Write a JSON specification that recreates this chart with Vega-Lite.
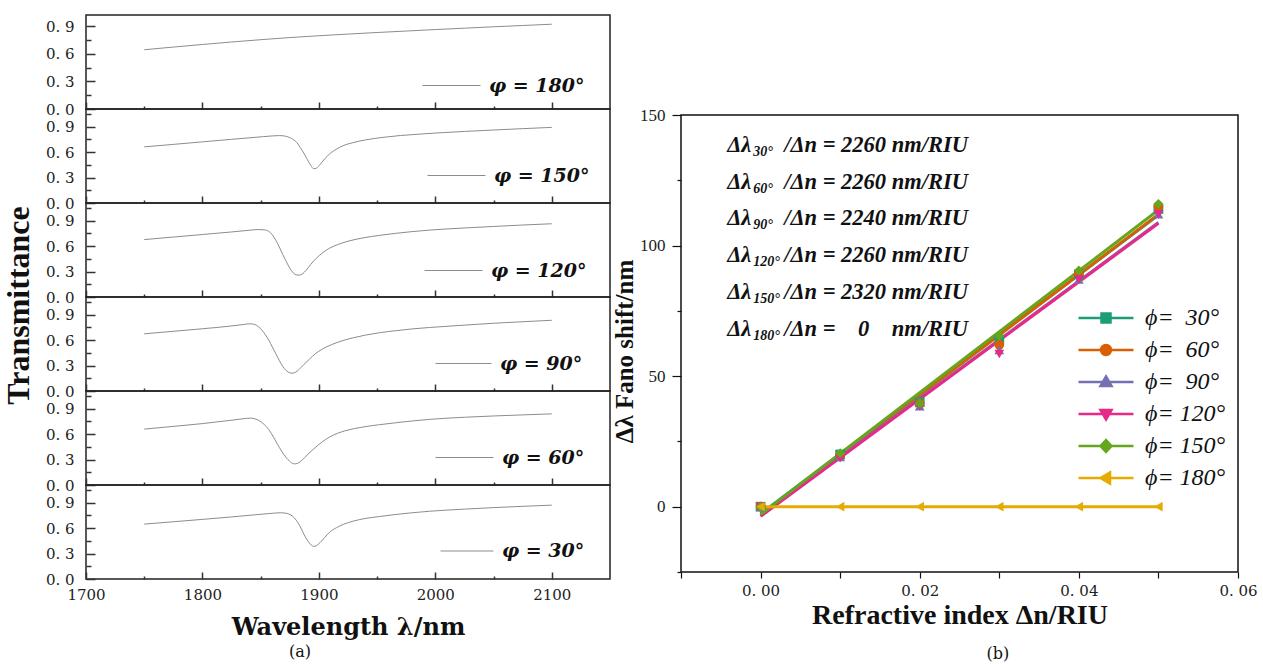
{
  "$schema": "https://vega.github.io/schema/vega-lite/v6.json",
  "background": "white",
  "padding": {"left": 1, "top": 14, "right": 0, "bottom": 0},
  "config": {
    "view": {"stroke": "#222", "strokeWidth": 1.5},
    "axis": {"domain": false, "grid": false},
    "concat": {"spacing": 0}
  },
  "datasets": {
    "curves": [
      {"c":"180","w":1750,"t":0.643},{"c":"180","w":1775,"t":0.672},{"c":"180","w":1800,"t":0.700},{"c":"180","w":1825,"t":0.727},{"c":"180","w":1850,"t":0.752},{"c":"180","w":1875,"t":0.775},{"c":"180","w":1900,"t":0.795},{"c":"180","w":1925,"t":0.813},{"c":"180","w":1950,"t":0.830},{"c":"180","w":1975,"t":0.846},{"c":"180","w":2000,"t":0.862},{"c":"180","w":2025,"t":0.877},{"c":"180","w":2050,"t":0.892},{"c":"180","w":2075,"t":0.906},{"c":"180","w":2100,"t":0.920},
      {"c":"150","w":1750,"t":0.663},{"c":"150","w":1775,"t":0.692},{"c":"150","w":1800,"t":0.722},{"c":"150","w":1825,"t":0.752},{"c":"150","w":1845,"t":0.775},{"c":"150","w":1860,"t":0.792},{"c":"150","w":1866,"t":0.796},{"c":"150","w":1871,"t":0.790},{"c":"150","w":1875,"t":0.772},{"c":"150","w":1878,"t":0.75},{"c":"150","w":1881,"t":0.715},{"c":"150","w":1884,"t":0.655},{"c":"150","w":1887,"t":0.59},{"c":"150","w":1890,"t":0.515},{"c":"150","w":1893,"t":0.445},{"c":"150","w":1895.5,"t":0.405},{"c":"150","w":1898,"t":0.412},{"c":"150","w":1901,"t":0.455},{"c":"150","w":1905,"t":0.52},{"c":"150","w":1909,"t":0.578},{"c":"150","w":1915,"t":0.635},{"c":"150","w":1920,"t":0.672},{"c":"150","w":1930,"t":0.715},{"c":"150","w":1940,"t":0.745},{"c":"150","w":1955,"t":0.775},{"c":"150","w":1970,"t":0.797},{"c":"150","w":1985,"t":0.812},{"c":"150","w":2000,"t":0.826},{"c":"150","w":2025,"t":0.845},{"c":"150","w":2050,"t":0.862},{"c":"150","w":2075,"t":0.878},{"c":"150","w":2100,"t":0.893},
      {"c":"120","w":1750,"t":0.678},{"c":"120","w":1775,"t":0.708},{"c":"120","w":1800,"t":0.738},{"c":"120","w":1825,"t":0.768},{"c":"120","w":1840,"t":0.788},{"c":"120","w":1848,"t":0.797},{"c":"120","w":1853,"t":0.793},{"c":"120","w":1857,"t":0.775},{"c":"120","w":1860,"t":0.735},{"c":"120","w":1863,"t":0.67},{"c":"120","w":1866,"t":0.59},{"c":"120","w":1869,"t":0.50},{"c":"120","w":1872,"t":0.42},{"c":"120","w":1875,"t":0.34},{"c":"120","w":1878,"t":0.285},{"c":"120","w":1881,"t":0.26},{"c":"120","w":1883,"t":0.258},{"c":"120","w":1886,"t":0.275},{"c":"120","w":1889,"t":0.315},{"c":"120","w":1893,"t":0.385},{"c":"120","w":1898,"t":0.46},{"c":"120","w":1903,"t":0.52},{"c":"120","w":1909,"t":0.575},{"c":"120","w":1916,"t":0.618},{"c":"120","w":1924,"t":0.655},{"c":"120","w":1938,"t":0.698},{"c":"120","w":1952,"t":0.728},{"c":"120","w":1966,"t":0.752},{"c":"120","w":1980,"t":0.772},{"c":"120","w":1995,"t":0.79},{"c":"120","w":2025,"t":0.815},{"c":"120","w":2050,"t":0.833},{"c":"120","w":2075,"t":0.85},{"c":"120","w":2100,"t":0.865},
      {"c":"90","w":1750,"t":0.675},{"c":"90","w":1775,"t":0.705},{"c":"90","w":1800,"t":0.735},{"c":"90","w":1823,"t":0.765},{"c":"90","w":1835,"t":0.785},{"c":"90","w":1841,"t":0.794},{"c":"90","w":1845,"t":0.785},{"c":"90","w":1848,"t":0.76},{"c":"90","w":1851,"t":0.72},{"c":"90","w":1854,"t":0.665},{"c":"90","w":1857,"t":0.60},{"c":"90","w":1860,"t":0.52},{"c":"90","w":1863,"t":0.44},{"c":"90","w":1866,"t":0.36},{"c":"90","w":1869,"t":0.29},{"c":"90","w":1872,"t":0.24},{"c":"90","w":1875,"t":0.215},{"c":"90","w":1877,"t":0.21},{"c":"90","w":1880,"t":0.222},{"c":"90","w":1883,"t":0.255},{"c":"90","w":1887,"t":0.312},{"c":"90","w":1892,"t":0.378},{"c":"90","w":1897,"t":0.44},{"c":"90","w":1903,"t":0.495},{"c":"90","w":1911,"t":0.548},{"c":"90","w":1920,"t":0.593},{"c":"90","w":1930,"t":0.63},{"c":"90","w":1940,"t":0.66},{"c":"90","w":1952,"t":0.688},{"c":"90","w":1966,"t":0.712},{"c":"90","w":1980,"t":0.733},{"c":"90","w":1995,"t":0.75},{"c":"90","w":2025,"t":0.778},{"c":"90","w":2050,"t":0.80},{"c":"90","w":2075,"t":0.818},{"c":"90","w":2100,"t":0.835},
      {"c":"60","w":1750,"t":0.66},{"c":"60","w":1775,"t":0.692},{"c":"60","w":1800,"t":0.725},{"c":"60","w":1823,"t":0.762},{"c":"60","w":1835,"t":0.782},{"c":"60","w":1841,"t":0.79},{"c":"60","w":1845,"t":0.782},{"c":"60","w":1849,"t":0.758},{"c":"60","w":1853,"t":0.715},{"c":"60","w":1857,"t":0.655},{"c":"60","w":1861,"t":0.565},{"c":"60","w":1864.5,"t":0.48},{"c":"60","w":1868,"t":0.40},{"c":"60","w":1872,"t":0.322},{"c":"60","w":1875,"t":0.28},{"c":"60","w":1878,"t":0.252},{"c":"60","w":1880,"t":0.25},{"c":"60","w":1883,"t":0.265},{"c":"60","w":1886,"t":0.298},{"c":"60","w":1890,"t":0.355},{"c":"60","w":1895,"t":0.42},{"c":"60","w":1902,"t":0.50},{"c":"60","w":1909,"t":0.565},{"c":"60","w":1916,"t":0.61},{"c":"60","w":1923,"t":0.642},{"c":"60","w":1938,"t":0.685},{"c":"60","w":1952,"t":0.712},{"c":"60","w":1966,"t":0.735},{"c":"60","w":1980,"t":0.756},{"c":"60","w":1995,"t":0.775},{"c":"60","w":2025,"t":0.80},{"c":"60","w":2050,"t":0.815},{"c":"60","w":2075,"t":0.828},{"c":"60","w":2100,"t":0.84},
      {"c":"30","w":1750,"t":0.648},{"c":"30","w":1775,"t":0.676},{"c":"30","w":1800,"t":0.704},{"c":"30","w":1825,"t":0.733},{"c":"30","w":1845,"t":0.758},{"c":"30","w":1860,"t":0.776},{"c":"30","w":1867,"t":0.782},{"c":"30","w":1872,"t":0.776},{"c":"30","w":1876,"t":0.755},{"c":"30","w":1879,"t":0.72},{"c":"30","w":1882,"t":0.665},{"c":"30","w":1885,"t":0.59},{"c":"30","w":1888,"t":0.505},{"c":"30","w":1891,"t":0.44},{"c":"30","w":1893.5,"t":0.40},{"c":"30","w":1895.5,"t":0.385},{"c":"30","w":1898,"t":0.395},{"c":"30","w":1901,"t":0.43},{"c":"30","w":1905,"t":0.49},{"c":"30","w":1909,"t":0.55},{"c":"30","w":1915,"t":0.605},{"c":"30","w":1921,"t":0.645},{"c":"30","w":1930,"t":0.685},{"c":"30","w":1938,"t":0.71},{"c":"30","w":1952,"t":0.738},{"c":"30","w":1966,"t":0.762},{"c":"30","w":1980,"t":0.782},{"c":"30","w":1995,"t":0.80},{"c":"30","w":2025,"t":0.825},{"c":"30","w":2050,"t":0.843},{"c":"30","w":2075,"t":0.858},{"c":"30","w":2100,"t":0.872}
    ],
    "pts": [
      {"phi":"30","dn":0,"s":0},{"phi":"30","dn":0.01,"s":20},{"phi":"30","dn":0.02,"s":40},{"phi":"30","dn":0.03,"s":64},{"phi":"30","dn":0.04,"s":89},{"phi":"30","dn":0.05,"s":114},
      {"phi":"60","dn":0,"s":0},{"phi":"60","dn":0.01,"s":19.5},{"phi":"60","dn":0.02,"s":39.5},{"phi":"60","dn":0.03,"s":62},{"phi":"60","dn":0.04,"s":89.5},{"phi":"60","dn":0.05,"s":115},
      {"phi":"90","dn":0,"s":0},{"phi":"90","dn":0.01,"s":19},{"phi":"90","dn":0.02,"s":38.5},{"phi":"90","dn":0.03,"s":60},{"phi":"90","dn":0.04,"s":87},{"phi":"90","dn":0.05,"s":112},
      {"phi":"120","dn":0,"s":0},{"phi":"120","dn":0.01,"s":18.5},{"phi":"120","dn":0.02,"s":38.5},{"phi":"120","dn":0.03,"s":58.5},{"phi":"120","dn":0.04,"s":87},{"phi":"120","dn":0.05,"s":112},
      {"phi":"150","dn":0,"s":0},{"phi":"150","dn":0.01,"s":20.5},{"phi":"150","dn":0.02,"s":39.5},{"phi":"150","dn":0.03,"s":65.5},{"phi":"150","dn":0.04,"s":90.5},{"phi":"150","dn":0.05,"s":116},
      {"phi":"180","dn":0,"s":0},{"phi":"180","dn":0.01,"s":0},{"phi":"180","dn":0.02,"s":0},{"phi":"180","dn":0.03,"s":0},{"phi":"180","dn":0.04,"s":0},{"phi":"180","dn":0.05,"s":0}
    ],
    "ann": [
      {"sub":"30°","rest":"/Δn = 2260 nm/RIU","dn":-0.0042,"s":138.7},
      {"sub":"60°","rest":"/Δn = 2260 nm/RIU","dn":-0.0042,"s":124.5},
      {"sub":"90°","rest":"/Δn = 2240 nm/RIU","dn":-0.0042,"s":110.6},
      {"sub":"120°","rest":"/Δn = 2260 nm/RIU","dn":-0.0042,"s":96.4},
      {"sub":"150°","rest":"/Δn = 2320 nm/RIU","dn":-0.0042,"s":82.3},
      {"sub":"180°","rest":"/Δn =\u00a0\u00a0\u00a0\u00a00\u00a0\u00a0\u00a0\u00a0nm/RIU","dn":-0.0042,"s":68.2}
    ],
    "leg": [
      {"entry":"ϕ=\u00a0\u00a030°"},{"entry":"ϕ=\u00a0\u00a060°"},{"entry":"ϕ=\u00a0\u00a090°"},{"entry":"ϕ= 120°"},{"entry":"ϕ= 150°"},{"entry":"ϕ= 180°"}
    ]
  },
  "spacing": 0,
  "resolve": {"scale": {"color": "independent", "fill": "independent", "stroke": "independent", "shape": "independent"}, "legend": {"color": "independent", "fill": "independent", "stroke": "independent", "shape": "independent"}},
  "hconcat": [
    {
      "vconcat": [
        {
          "width": 524, "height": 94,
          "data": {"name": "curves"},
          "transform": [{"filter": "datum.c == '180'"}],
          "mark": {"type": "line", "strokeWidth": 1, "interpolate": "monotone"},
          "encoding": {
            "x": {"field": "w", "type": "quantitative", "scale": {"domain": [1700, 2150], "nice": false, "zero": false},
              "axis": {"values": [1700,1750,1800,1850,1900,1950,2000,2050,2100], "labels": false, "title": null, "tickColor": "#333", "tickWidth": 1.5,
                "tickSize": {"condition": {"test": "datum.value % 100 == 0", "value": -7}, "value": -3}}},
            "y": {"field": "t", "type": "quantitative", "scale": {"domain": [0, 1.02], "nice": false},
              "axis": {"values": [0,0.15,0.3,0.45,0.6,0.75,0.9], "title": null, "tickColor": "#333", "tickWidth": 1.5,
                "tickSize": {"condition": {"test": "abs(datum.value/0.3 - round(datum.value/0.3)) < 0.01", "value": -9}, "value": -5},
                "labelExpr": "abs(datum.value/0.3 - round(datum.value/0.3)) < 0.01 ? replace(format(datum.value, '.1f'), '.', '. ') : ''",
                "labelFont": "DejaVu Serif", "labelFontSize": 15, "labelColor": "#222", "labelPadding": 21, "labelOverlap": false, "labelFlush": false}},
            "color": {"field": "c", "type": "nominal", "scale": {"domain": ["180"], "range": ["#8c8c8c"]},
              "legend": {"orient": "none", "legendX": 336, "legendY": 41, "title": null, "symbolType": "stroke", "symbolSize": 3364, "symbolStrokeWidth": 1,
                "labelExpr": "'φ = ' + datum.label + '°'", "labelFont": "DejaVu Serif", "labelFontStyle": "italic", "labelFontWeight": "bold", "labelFontSize": 19, "labelColor": "#111", "labelOffset": 8}}
          }
        },
        {
          "width": 524, "height": 94,
          "data": {"name": "curves"},
          "transform": [{"filter": "datum.c == '150'"}],
          "mark": {"type": "line", "strokeWidth": 1, "interpolate": "monotone"},
          "encoding": {
            "x": {"field": "w", "type": "quantitative", "scale": {"domain": [1700, 2150], "nice": false, "zero": false},
              "axis": {"values": [1700,1750,1800,1850,1900,1950,2000,2050,2100], "labels": false, "title": null, "tickColor": "#333", "tickWidth": 1.5,
                "tickSize": {"condition": {"test": "datum.value % 100 == 0", "value": -7}, "value": -3}}},
            "y": {"field": "t", "type": "quantitative", "scale": {"domain": [0, 1.11], "nice": false},
              "axis": {"values": [0,0.15,0.3,0.45,0.6,0.75,0.9,1.05], "title": null, "tickColor": "#333", "tickWidth": 1.5,
                "tickSize": {"condition": {"test": "abs(datum.value/0.3 - round(datum.value/0.3)) < 0.01", "value": -9}, "value": -5},
                "labelExpr": "abs(datum.value/0.3 - round(datum.value/0.3)) < 0.01 ? replace(format(datum.value, '.1f'), '.', '. ') : ''",
                "labelFont": "DejaVu Serif", "labelFontSize": 15, "labelColor": "#222", "labelPadding": 21, "labelOverlap": false, "labelFlush": false}},
            "color": {"field": "c", "type": "nominal", "scale": {"domain": ["150"], "range": ["#8c8c8c"]},
              "legend": {"orient": "none", "legendX": 341, "legendY": 37, "title": null, "symbolType": "stroke", "symbolSize": 3364, "symbolStrokeWidth": 1,
                "labelExpr": "'φ = ' + datum.label + '°'", "labelFont": "DejaVu Serif", "labelFontStyle": "italic", "labelFontWeight": "bold", "labelFontSize": 19, "labelColor": "#111", "labelOffset": 8}}
          }
        },
        {
          "width": 524, "height": 94,
          "data": {"name": "curves"},
          "transform": [{"filter": "datum.c == '120'"}],
          "mark": {"type": "line", "strokeWidth": 1, "interpolate": "monotone"},
          "encoding": {
            "x": {"field": "w", "type": "quantitative", "scale": {"domain": [1700, 2150], "nice": false, "zero": false},
              "axis": {"values": [1700,1750,1800,1850,1900,1950,2000,2050,2100], "labels": false, "title": null, "tickColor": "#333", "tickWidth": 1.5,
                "tickSize": {"condition": {"test": "datum.value % 100 == 0", "value": -7}, "value": -3}}},
            "y": {"field": "t", "type": "quantitative", "scale": {"domain": [0, 1.11], "nice": false},
              "axis": {"values": [0,0.15,0.3,0.45,0.6,0.75,0.9,1.05], "tickColor": "#333", "tickWidth": 1.5,
                "title": "Transmittance", "titleFont": "Liberation Serif", "titleFontWeight": "bold", "titleFontSize": 32, "titleColor": "#111", "titleX": -51, "titleY": 102,
                "tickSize": {"condition": {"test": "abs(datum.value/0.3 - round(datum.value/0.3)) < 0.01", "value": -9}, "value": -5},
                "labelExpr": "abs(datum.value/0.3 - round(datum.value/0.3)) < 0.01 ? replace(format(datum.value, '.1f'), '.', '. ') : ''",
                "labelFont": "DejaVu Serif", "labelFontSize": 15, "labelColor": "#222", "labelPadding": 21, "labelOverlap": false, "labelFlush": false}},
            "color": {"field": "c", "type": "nominal", "scale": {"domain": ["120"], "range": ["#8c8c8c"]},
              "legend": {"orient": "none", "legendX": 338, "legendY": 38, "title": null, "symbolType": "stroke", "symbolSize": 3364, "symbolStrokeWidth": 1,
                "labelExpr": "'φ = ' + datum.label + '°'", "labelFont": "DejaVu Serif", "labelFontStyle": "italic", "labelFontWeight": "bold", "labelFontSize": 19, "labelColor": "#111", "labelOffset": 8}}
          }
        },
        {
          "width": 524, "height": 94,
          "data": {"name": "curves"},
          "transform": [{"filter": "datum.c == '90'"}],
          "mark": {"type": "line", "strokeWidth": 1, "interpolate": "monotone"},
          "encoding": {
            "x": {"field": "w", "type": "quantitative", "scale": {"domain": [1700, 2150], "nice": false, "zero": false},
              "axis": {"values": [1700,1750,1800,1850,1900,1950,2000,2050,2100], "labels": false, "title": null, "tickColor": "#333", "tickWidth": 1.5,
                "tickSize": {"condition": {"test": "datum.value % 100 == 0", "value": -7}, "value": -3}}},
            "y": {"field": "t", "type": "quantitative", "scale": {"domain": [0, 1.11], "nice": false},
              "axis": {"values": [0,0.15,0.3,0.45,0.6,0.75,0.9,1.05], "title": null, "tickColor": "#333", "tickWidth": 1.5,
                "tickSize": {"condition": {"test": "abs(datum.value/0.3 - round(datum.value/0.3)) < 0.01", "value": -9}, "value": -5},
                "labelExpr": "abs(datum.value/0.3 - round(datum.value/0.3)) < 0.01 ? replace(format(datum.value, '.1f'), '.', '. ') : ''",
                "labelFont": "DejaVu Serif", "labelFontSize": 15, "labelColor": "#222", "labelPadding": 21, "labelOverlap": false, "labelFlush": false}},
            "color": {"field": "c", "type": "nominal", "scale": {"domain": ["90"], "range": ["#8c8c8c"]},
              "legend": {"orient": "none", "legendX": 349, "legendY": 38, "title": null, "symbolType": "stroke", "symbolSize": 3136, "symbolStrokeWidth": 1,
                "labelExpr": "'φ = ' + datum.label + '°'", "labelFont": "DejaVu Serif", "labelFontStyle": "italic", "labelFontWeight": "bold", "labelFontSize": 19, "labelColor": "#111", "labelOffset": 8}}
          }
        },
        {
          "width": 524, "height": 94,
          "data": {"name": "curves"},
          "transform": [{"filter": "datum.c == '60'"}],
          "mark": {"type": "line", "strokeWidth": 1, "interpolate": "monotone"},
          "encoding": {
            "x": {"field": "w", "type": "quantitative", "scale": {"domain": [1700, 2150], "nice": false, "zero": false},
              "axis": {"values": [1700,1750,1800,1850,1900,1950,2000,2050,2100], "labels": false, "title": null, "tickColor": "#333", "tickWidth": 1.5,
                "tickSize": {"condition": {"test": "datum.value % 100 == 0", "value": -7}, "value": -3}}},
            "y": {"field": "t", "type": "quantitative", "scale": {"domain": [0, 1.11], "nice": false},
              "axis": {"values": [0,0.15,0.3,0.45,0.6,0.75,0.9,1.05], "title": null, "tickColor": "#333", "tickWidth": 1.5,
                "tickSize": {"condition": {"test": "abs(datum.value/0.3 - round(datum.value/0.3)) < 0.01", "value": -9}, "value": -5},
                "labelExpr": "abs(datum.value/0.3 - round(datum.value/0.3)) < 0.01 ? replace(format(datum.value, '.1f'), '.', '. ') : ''",
                "labelFont": "DejaVu Serif", "labelFontSize": 15, "labelColor": "#222", "labelPadding": 21, "labelOverlap": false, "labelFlush": false}},
            "color": {"field": "c", "type": "nominal", "scale": {"domain": ["60"], "range": ["#8c8c8c"]},
              "legend": {"orient": "none", "legendX": 349, "legendY": 37, "title": null, "symbolType": "stroke", "symbolSize": 3364, "symbolStrokeWidth": 1,
                "labelExpr": "'φ = ' + datum.label + '°'", "labelFont": "DejaVu Serif", "labelFontStyle": "italic", "labelFontWeight": "bold", "labelFontSize": 19, "labelColor": "#111", "labelOffset": 8}}
          }
        },
        {
          "width": 524, "height": 94,
          "data": {"name": "curves"},
          "transform": [{"filter": "datum.c == '30'"}],
          "mark": {"type": "line", "strokeWidth": 1, "interpolate": "monotone"},
          "encoding": {
            "x": {"field": "w", "type": "quantitative", "scale": {"domain": [1700, 2150], "nice": false, "zero": false},
              "axis": {"values": [1700,1750,1800,1850,1900,1950,2000,2050,2100], "tickColor": "#333", "tickWidth": 1.5,
                "tickSize": {"condition": {"test": "datum.value % 100 == 0", "value": -7}, "value": -3},
                "labelExpr": "datum.value % 100 == 0 ? datum.value : ''", "labelFont": "DejaVu Serif", "labelFontSize": 15, "labelColor": "#222", "labelPadding": 15, "labelOverlap": false, "labelFlush": false,
                "title": "Wavelength λ/nm", "titleFont": "DejaVu Serif", "titleFontWeight": "bold", "titleFontSize": 24, "titleColor": "#111", "titlePadding": 9}},
            "y": {"field": "t", "type": "quantitative", "scale": {"domain": [0, 1.11], "nice": false},
              "axis": {"values": [0,0.15,0.3,0.45,0.6,0.75,0.9,1.05], "title": null, "tickColor": "#333", "tickWidth": 1.5,
                "tickSize": {"condition": {"test": "abs(datum.value/0.3 - round(datum.value/0.3)) < 0.01", "value": -9}, "value": -5},
                "labelExpr": "abs(datum.value/0.3 - round(datum.value/0.3)) < 0.01 ? replace(format(datum.value, '.1f'), '.', '. ') : ''",
                "labelFont": "DejaVu Serif", "labelFontSize": 15, "labelColor": "#222", "labelPadding": 21, "labelOverlap": false, "labelFlush": false}},
            "color": {"field": "c", "type": "nominal", "scale": {"domain": ["30"], "range": ["#8c8c8c"]},
              "legend": {"orient": "none", "legendX": 354, "legendY": 39, "title": null, "symbolType": "stroke", "symbolSize": 2809, "symbolStrokeWidth": 1,
                "labelExpr": "'φ = ' + datum.label + '°'", "labelFont": "DejaVu Serif", "labelFontStyle": "italic", "labelFontWeight": "bold", "labelFontSize": 19, "labelColor": "#111", "labelOffset": 8}}
          }
        }
      ],
      "spacing": 0,
      "bounds": "flush",
      "resolve": {"scale": {"color": "independent"}, "legend": {"color": "independent"}},
      "title": {"text": "(a)", "orient": "bottom", "anchor": "middle", "dx": -6, "font": "DejaVu Serif", "fontSize": 16, "fontWeight": "normal", "color": "#111", "offset": 4}
    },
    {
      "vconcat": [
        {
          "width": 557, "height": 100,
          "data": {"values": []},
          "mark": {"type": "point"},
          "view": {"stroke": null}
        },
        {
          "width": 557, "height": 457,
          "view": {"stroke": "#111", "strokeWidth": 1.5},
          "resolve": {"scale": {"shape": "independent", "fill": "independent", "stroke": "independent"}, "legend": {"shape": "independent", "fill": "independent", "stroke": "independent"}},
          "layer": [
            {
              "data": {"name": "pts"},
              "transform": [{"regression": "s", "on": "dn", "groupby": ["phi"]}],
              "mark": {"type": "line", "strokeWidth": 3},
              "encoding": {
                "x": {"field": "dn", "type": "quantitative", "scale": {"domain": [-0.01, 0.06], "nice": false, "zero": false},
                  "axis": {"values": [-0.01,0,0.01,0.02,0.03,0.04,0.05,0.06], "tickSize": 6, "tickColor": "#111", "tickWidth": 1.2,
                    "labelExpr": "datum.value >= 0 && round(datum.value*100) % 2 == 0 ? replace(format(datum.value, '.2f'), '.', '. ') : ''",
                    "labelFont": "DejaVu Serif", "labelFontSize": 15, "labelColor": "#222", "labelPadding": 5, "labelOverlap": false, "labelFlush": false,
                    "title": "Refractive index Δn/RIU", "titleFont": "Liberation Serif", "titleFontWeight": "bold", "titleFontSize": 28, "titleColor": "#111", "titlePadding": 3}},
                "y": {"field": "s", "type": "quantitative", "scale": {"domain": [-25, 150], "nice": false, "zero": false},
                  "axis": {"values": [-25,0,25,50,75,100,125,150], "tickColor": "#111", "tickWidth": 1.2,
                    "tickSize": {"condition": {"test": "datum.value % 50 == 0", "value": 9}, "value": 4},
                    "labelExpr": "datum.value % 50 == 0 ? datum.value : ''", "labelFont": "Liberation Serif", "labelFontSize": 17, "labelColor": "#222", "labelPadding": 7, "labelOverlap": false, "labelFlush": false,
                    "title": "Δλ Fano shift/nm", "titleFont": "Liberation Serif", "titleFontWeight": "bold", "titleFontSize": 25, "titleColor": "#111", "titlePadding": 2, "titleY": 236}},
                "color": {"field": "phi", "type": "nominal", "scale": {"domain": ["30","60","90","120","150","180"], "range": ["#1b9e77","#d95f02","#7570b3","#e7298a","#66a61e","#e6ab02"]}, "legend": null}
              }
            },
            {
              "data": {"name": "pts"},
              "mark": {"type": "point", "filled": true, "size": 95, "opacity": 1},
              "encoding": {
                "x": {"field": "dn", "type": "quantitative"},
                "y": {"field": "s", "type": "quantitative"},
                "color": {"field": "phi", "type": "nominal", "legend": null},
                "shape": {"field": "phi", "type": "nominal", "scale": {"domain": ["30","60","90","120","150","180"], "range": ["square","circle","triangle-up","triangle-down","diamond","triangle-left"]}, "legend": null}
              }
            },
            {
              "data": {"name": "leg"},
              "mark": {"type": "point", "filled": true, "opacity": 0, "strokeWidth": 2.5},
              "encoding": {
                "fill": {"field": "entry", "type": "nominal", "scale": {"domain": ["ϕ=\u00a0\u00a030°","ϕ=\u00a0\u00a060°","ϕ=\u00a0\u00a090°","ϕ= 120°","ϕ= 150°","ϕ= 180°"], "range": ["#1b9e77","#d95f02","#7570b3","#e7298a","#66a61e","#e6ab02"]},
                  "legend": {"orient": "none", "legendX": 413, "legendY": 191, "title": null, "symbolSize": 100, "symbolOpacity": 1, "symbolStrokeWidth": 2.5, "labelOffset": 27, "rowPadding": 8,
                    "labelFont": "Liberation Serif", "labelFontStyle": "italic", "labelFontSize": 24, "labelColor": "#111"}},
                "stroke": {"field": "entry", "type": "nominal", "scale": {"domain": ["ϕ=\u00a0\u00a030°","ϕ=\u00a0\u00a060°","ϕ=\u00a0\u00a090°","ϕ= 120°","ϕ= 150°","ϕ= 180°"], "range": ["#1b9e77","#d95f02","#7570b3","#e7298a","#66a61e","#e6ab02"]},
                  "legend": {"orient": "none", "legendX": 413, "legendY": 191, "title": null, "symbolSize": 100, "symbolOpacity": 1, "symbolStrokeWidth": 2.5, "labelOffset": 27, "rowPadding": 8,
                    "labelFont": "Liberation Serif", "labelFontStyle": "italic", "labelFontSize": 24, "labelColor": "#111"}},
                "shape": {"field": "entry", "type": "nominal", "scale": {"domain": ["ϕ=\u00a0\u00a030°","ϕ=\u00a0\u00a060°","ϕ=\u00a0\u00a090°","ϕ= 120°","ϕ= 150°","ϕ= 180°"],
                    "range": ["M-5.5,0H5.5M-0.9,-0.9H0.9V0.9H-0.9Z","M-5.5,0H5.5M1,0A1,1,0,1,1,-1,0A1,1,0,1,1,1,0Z","M-5.5,0H5.5M0,-1.1L1.1,0.8H-1.1Z","M-5.5,0H5.5M0,1.1L1.1,-0.8H-1.1Z","M-5.5,0H5.5M0,-1.2L1.1,0L0,1.2L-1.1,0Z","M-5.5,0H5.5M-1.1,0L0.8,-1.1V1.1Z"]},
                  "legend": {"orient": "none", "legendX": 413, "legendY": 191, "title": null, "symbolSize": 100, "symbolOpacity": 1, "symbolStrokeWidth": 2.5, "labelOffset": 27, "rowPadding": 8,
                    "labelFont": "Liberation Serif", "labelFontStyle": "italic", "labelFontSize": 24, "labelColor": "#111"}}
              }
            },
            {
              "data": {"name": "ann"},
              "mark": {"type": "text", "text": "Δλ", "align": "left", "baseline": "middle", "font": "Liberation Serif", "fontStyle": "italic", "fontWeight": "bold", "fontSize": 22.5, "color": "#111"},
              "encoding": {"x": {"field": "dn", "type": "quantitative"}, "y": {"field": "s", "type": "quantitative"}}
            },
            {
              "data": {"name": "ann"},
              "mark": {"type": "text", "align": "left", "baseline": "middle", "dx": 26, "dy": 7, "font": "Liberation Serif", "fontStyle": "italic", "fontWeight": "bold", "fontSize": 14, "color": "#111"},
              "encoding": {"x": {"field": "dn", "type": "quantitative"}, "y": {"field": "s", "type": "quantitative"}, "text": {"field": "sub"}}
            },
            {
              "data": {"name": "ann"},
              "mark": {"type": "text", "align": "left", "baseline": "middle", "dx": 57, "font": "Liberation Serif", "fontStyle": "italic", "fontWeight": "bold", "fontSize": 22.5, "color": "#111"},
              "encoding": {"x": {"field": "dn", "type": "quantitative"}, "y": {"field": "s", "type": "quantitative"}, "text": {"field": "rest"}}
            }
          ]
        }
      ],
      "spacing": 0,
      "bounds": "flush",
      "title": {"text": "(b)", "orient": "bottom", "anchor": "middle", "dx": 63, "font": "DejaVu Serif", "fontSize": 16, "fontWeight": "normal", "color": "#111", "offset": 16}
    }
  ]
}
